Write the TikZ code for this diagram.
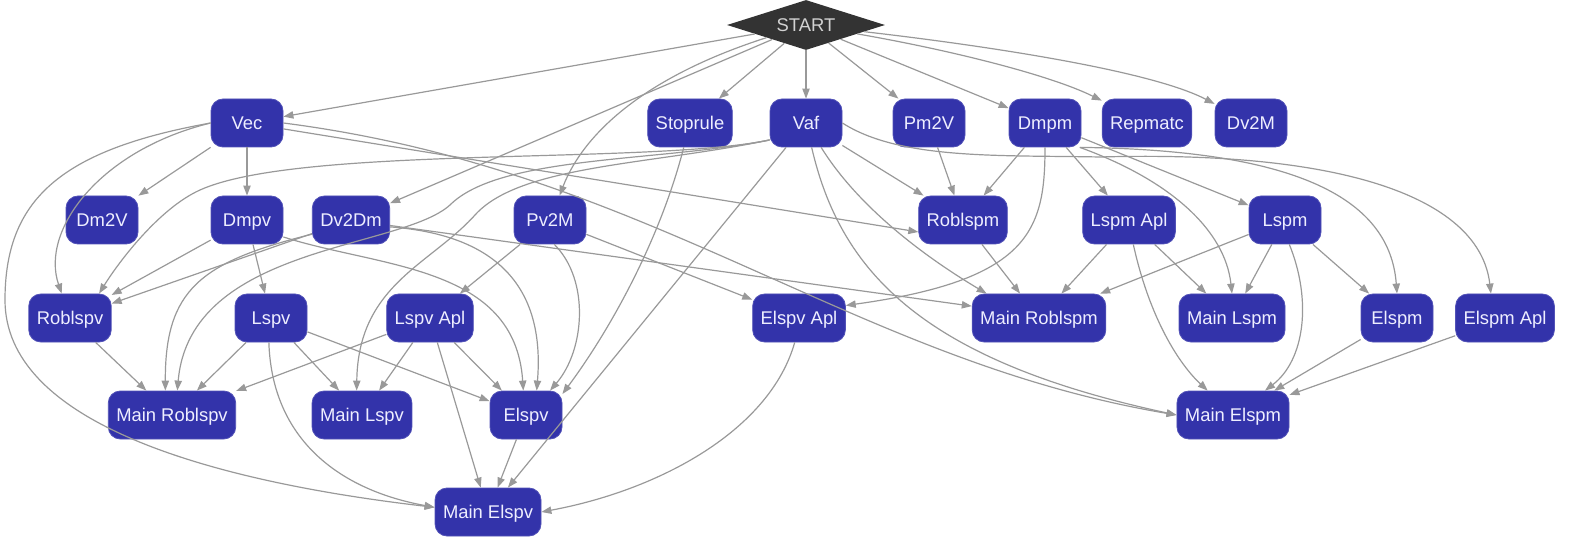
\documentclass[tikz,border=0pt]{standalone}
\usepackage{fontspec}
\setmainfont{Liberation Sans}
\usetikzlibrary{arrows.meta, shapes.geometric}
\definecolor{modblue}{HTML}{3333AA}
\definecolor{modtext}{HTML}{EEEEFF}
\definecolor{startgray}{HTML}{333333}
\definecolor{depgray}{HTML}{999999}

\begin{document}
\begin{tikzpicture}[x=0.75pt, y=-0.75pt, >={Triangle[length=7.5pt,width=5.5pt]},
  font=\fontsize{13.8}{16}\selectfont,
  modbox/.style={draw=modblue!85!white, fill=modblue, text=modtext, rounded corners=9pt,
    minimum height=36pt, minimum width=54pt, inner xsep=6pt, line width=0.6pt,
    text height=9.9pt, text depth=0pt},
  startbox/.style={diamond, fill=startgray, text=gray!35, aspect=3.2,
    minimum width=118.5pt, minimum height=37.5pt, inner sep=0pt,
    text height=9.9pt, text depth=0pt},
  depline/.style={->, draw=depgray, line width=0.9pt}]
  \useasboundingbox (0,0) rectangle (1570,545);

  % Start
  \node[startbox] (start) at (806,25) {START};

  % Erste Reihe
  \node[modbox] (vec) at (247,123) {Vec};
  \node[modbox] (stoprule) at (690,123) {Stoprule};
  \node[modbox] (vaf) at (806,123) {Vaf};
  \node[modbox] (pmtv) at (929,123) {Pm2V};
  \node[modbox] (dmpm) at (1045,123) {Dmpm};
  \node[modbox] (repmatc) at (1147,123) {Repmatc};
  \node[modbox] (dvtm) at (1251,123) {Dv2M};

  % Zweite Reihe
  \node[modbox] (dmtv) at (102,220) {Dm2V};
  \node[modbox] (dmpv) at (247,220) {Dmpv};
  \node[modbox] (dvtdm) at (351,220) {Dv2Dm};
  \node[modbox] (pvtm) at (550,220) {Pv2M};
  \node[modbox] (roblspm) at (963,220) {Roblspm};
  \node[modbox] (lspmapl) at (1129,220) {Lspm Apl};
  \node[modbox] (lspm) at (1285,220) {Lspm};

  % Dritte Reihe
  \node[modbox] (roblspv) at (70,318) {Roblspv};
  \node[modbox] (lspv) at (271,318) {Lspv};
  \node[modbox] (lspvapl) at (430,318) {Lspv Apl};
  \node[modbox] (elspvapl) at (799,318) {Elspv Apl};
  \node[modbox] (mainroblspm) at (1039,318) {Main Roblspm};
  \node[modbox] (mainlspm) at (1232,318) {Main Lspm};
  \node[modbox] (elspm) at (1397,318) {Elspm};
  \node[modbox] (elspmapl) at (1505,318) {Elspm Apl};

  % Vierte und fuenfte Reihe
  \node[modbox] (mainroblspv) at (172,415) {Main Roblspv};
  \node[modbox] (mainlspv) at (362,415) {Main Lspv};
  \node[modbox] (elspv) at (526,415) {Elspv};
  \node[modbox] (mainelspm) at (1233,415) {Main Elspm};
  \node[modbox] (mainelspv) at (488,512) {Main Elspv};

  % Kanten von START
  \draw[depline] (start) -- (vec);
  \draw[depline] (start) -- (dvtdm);
  \draw[depline] (start) .. controls (650,75) and (585,130) .. (pvtm);
  \draw[depline] (start) -- (stoprule);
  \draw[depline] (start) -- (vaf);
  \draw[depline] (start) -- (pmtv);
  \draw[depline] (start) -- (dmpm);
  \draw[depline] (start) .. controls (950,50) and (1050,75) .. (repmatc);
  \draw[depline] (start) .. controls (980,45) and (1150,70) .. (dvtm);

  % Vec
  \draw[depline] (vec) -- (dmtv);
  \draw[depline] (vec) -- (dmpv);
  \draw[depline] (vec.west) .. controls (100,150) and (40,230) .. (roblspv);
  \draw[depline] (vec.west) .. controls (60,150) and (5,200) .. (5,300)
    .. controls (5,420) and (200,480) .. (mainelspv.175);
  \draw[depline] (vec) -- (roblspm.195);
  \draw[depline] (vec.east) .. controls (650,170) and (850,360) .. (mainelspm.west);

  % Vaf
  \draw[depline] (vaf.205) .. controls (650,165) and (300,145) .. (200,190)
    .. controls (160,208) and (120,260) .. (roblspv.40);
  \draw[depline] (vaf.205) .. controls (660,162) and (500,155) .. (450,205)
    .. controls (400,250) and (190,245) .. ([xshift=4pt]mainroblspv.north);
  \draw[depline] (vaf.205) .. controls (650,165) and (520,165) .. (475,215)
    .. controls (430,265) and (358,285) .. ([xshift=-4pt]mainlspv.north);
  \draw[depline] (vaf) -- (mainelspv);
  \draw[depline] (vaf) -- (roblspm);
  \draw[depline] (vaf) .. controls (860,210) and (930,260) .. (mainroblspm.155);
  \draw[depline] (vaf) .. controls (840,270) and (920,360) .. (mainelspm.west);
  \draw[depline] (vaf.east) .. controls (900,160) and (1000,155) .. (1100,157)
    .. controls (1350,150) and (1480,200) .. (elspmapl.120);

  % Dmpm
  \draw[depline] (dmpm) -- (roblspm);
  \draw[depline] (dmpm) -- (lspmapl);
  \draw[depline] (dmpm) -- (lspm);
  \draw[depline] (dmpm.south) .. controls (1045,230) and (1030,280) .. (elspvapl.15);
  \draw[depline] (dmpm.-35) .. controls (1170,180) and (1225,230) .. (mainlspm.north);
  \draw[depline] (dmpm.-35) .. controls (1300,150) and (1390,200) .. (elspm.north);
  \draw[depline] (pmtv) -- (roblspm);

  % Dmpv, Dv2Dm, Pv2M, Stoprule
  \draw[depline] (dmpv) -- (roblspv);
  \draw[depline] (dmpv) -- (lspv);
  \draw[depline] (dmpv.-25) .. controls (380,268) and (515,265) .. ([xshift=-2pt]elspv.north);
  \draw[depline] (dvtdm) -- (roblspv);
  \draw[depline] (dvtdm.200) .. controls (200,262) and (165,290) .. ([xshift=-5pt]mainroblspv.north);
  \draw[depline] (dvtdm.-10) .. controls (500,235) and (545,290) .. ([xshift=8pt]elspv.north);
  \draw[depline] (dvtdm.-8) -- (mainroblspm.170);
  \draw[depline] (pvtm) -- (lspvapl);
  \draw[depline] (pvtm.-80) .. controls (590,280) and (585,350) .. ([xshift=18pt]elspv.north);
  \draw[depline] (pvtm) -- (elspvapl);
  \draw[depline] (stoprule) .. controls (660,240) and (610,330) .. (elspv.30);

  % Lspv, Lspv Apl
  \draw[depline] (roblspv) -- (mainroblspv);
  \draw[depline] (lspv) -- (mainroblspv);
  \draw[depline] (lspv) -- (mainlspv);
  \draw[depline] (lspv) -- (elspv);
  \draw[depline] (lspv.-95) .. controls (272,440) and (340,490) .. (mainelspv.175);
  \draw[depline] (lspvapl) -- (mainroblspv);
  \draw[depline] (lspvapl) -- (mainlspv);
  \draw[depline] (lspvapl) -- (elspv);
  \draw[depline] (lspvapl) -- (mainelspv);
  \draw[depline] (elspv) -- (mainelspv);
  \draw[depline] (elspvapl.-100) .. controls (770,430) and (660,490) .. (mainelspv.east);

  % Lspm, Lspm Apl
  \draw[depline] (roblspm) -- (mainroblspm);
  \draw[depline] (lspmapl) -- (mainroblspm);
  \draw[depline] (lspmapl) -- (mainlspm);
  \draw[depline] (lspmapl.-80) .. controls (1150,320) and (1180,365) .. ([xshift=-19pt]mainelspm.north);
  \draw[depline] (lspm) -- (mainroblspm);
  \draw[depline] (lspm) -- (mainlspm);
  \draw[depline] (lspm) -- (elspm);
  \draw[depline] (lspm.-80) .. controls (1312,300) and (1305,360) .. ([xshift=24pt]mainelspm.north);
  \draw[depline] (elspm) -- (mainelspm);
  \draw[depline] (elspmapl) -- (mainelspm);
\end{tikzpicture}
\end{document}
